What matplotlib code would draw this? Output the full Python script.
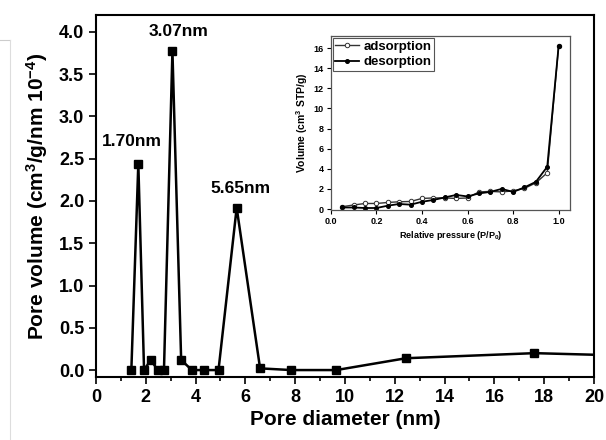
import matplotlib
matplotlib.use('Agg')
import matplotlib.pyplot as plt
from matplotlib.ticker import MultipleLocator

plt.rcParams['font.family'] = ['Liberation Sans', 'DejaVu Sans']
plt.rcParams['font.weight'] = 'bold'
plt.rcParams['mathtext.fontset'] = 'custom'
plt.rcParams['mathtext.rm'] = 'Liberation Sans:bold'
plt.rcParams['mathtext.default'] = 'rm'

# BJH pore size distribution
pore_d = [1.42, 1.70, 1.93, 2.20, 2.48, 2.73, 3.07, 3.42, 3.85, 4.33, 4.92,
          5.65, 6.59, 7.85, 9.65, 12.45, 17.61, 22.7]
pore_v = [0.0, 2.44, 0.0, 0.12, 0.0, 0.0, 3.77, 0.12, 0.0, 0.0, 0.0,
          1.92, 0.02, 0.0, 0.0, 0.14, 0.20, 0.16]
peak_labels = ['1.70nm', '3.07nm', '5.65nm']
peak_pos = [(1.45, 2.70), (3.30, 4.00), (5.80, 2.15)]

# N2 isotherm
p_rel = [0.05, 0.10, 0.15, 0.20, 0.25, 0.30, 0.35, 0.40, 0.45, 0.50,
         0.55, 0.60, 0.65, 0.70, 0.75, 0.80, 0.85, 0.90, 0.95, 1.00]
ads = [0.23, 0.40, 0.55, 0.55, 0.65, 0.72, 0.75, 1.05, 1.10, 1.10,
       1.05, 1.10, 1.70, 1.75, 1.70, 1.80, 2.05, 2.60, 3.60, 16.2]
des = [0.15, 0.15, 0.10, 0.10, 0.33, 0.50, 0.43, 0.72, 0.90, 1.15,
       1.40, 1.25, 1.55, 1.70, 2.00, 1.70, 2.15, 2.70, 4.20, 16.2]

fig = plt.figure(figsize=(6.06, 4.40), dpi=100)
ax = fig.add_axes([0.1584, 0.143, 0.8218, 0.823])

ax.plot(pore_d, pore_v, '-s', color='black', lw=1.8, ms=5.5, clip_on=True)
for lab, (x, y) in zip(peak_labels, peak_pos):
    ax.text(x, y, lab, ha='center', va='center', fontsize=12.5, fontweight='bold')

ax.set_xlim(0, 20)
ax.set_ylim(-0.083, 4.2)
ax.xaxis.set_major_locator(MultipleLocator(2))
ax.xaxis.set_minor_locator(MultipleLocator(1))
ax.yaxis.set_major_locator(MultipleLocator(0.5))
ax.yaxis.set_major_formatter(matplotlib.ticker.FormatStrFormatter('%.1f'))
ax.tick_params(which='major', direction='out', length=5, width=1.2, labelsize=13)
ax.tick_params(which='minor', direction='out', length=3, width=1.2)
for s in ax.spines.values():
    s.set_linewidth(1.5)
ax.set_xlabel('Pore diameter (nm)', fontsize=15, fontweight='bold', labelpad=3)
ax.set_ylabel('Pore volume (cm$^3$/g/nm 10$^{-4}$)', fontsize=15,
              fontweight='bold', labelpad=6)

# inset: isotherm
ins = fig.add_axes([0.546, 0.5227, 0.3946, 0.3953])
ins.plot(p_rel, ads, '-o', color='#333333', lw=1.0, ms=3.2, mfc='white',
         mec='#333333', mew=0.7, label='adsorption')
ins.plot(p_rel, des, '-o', color='black', lw=1.3, ms=2.6, label='desorption')
ins.set_xlim(0, 1.05)
ins.set_ylim(-0.1, 17.2)
ins.xaxis.set_major_locator(MultipleLocator(0.2))
ins.yaxis.set_major_locator(MultipleLocator(2))
ins.xaxis.set_major_formatter(matplotlib.ticker.FormatStrFormatter('%.1f'))
ins.tick_params(direction='out', length=3, width=0.8, labelsize=6.5, pad=2)
for s in ins.spines.values():
    s.set_linewidth(0.9)
    s.set_color('#555555')
ins.set_xlabel('Relative pressure (P/P$_0$)', fontsize=6.5, fontweight='bold',
               labelpad=2)
ins.set_ylabel('Volume (cm$^3$ STP/g)', fontsize=7.5, fontweight='bold',
               labelpad=3)
leg = ins.legend(loc='upper left', fontsize=9.5, handlelength=1.8,
                 handletextpad=0.3, borderpad=0.2, borderaxespad=0.15,
                 labelspacing=0.25, fancybox=False, framealpha=1)
leg.get_frame().set_edgecolor('#555555')
leg.get_frame().set_linewidth(0.8)

# faint border at left edge
fig.add_artist(plt.Line2D([0, 0.016], [0.909, 0.909], color='#cccccc', lw=0.8))
fig.add_artist(plt.Line2D([0.016, 0.016], [0.909, 0.0], color='#dddddd', lw=0.8))

fig.savefig('out.png', dpi=100)
